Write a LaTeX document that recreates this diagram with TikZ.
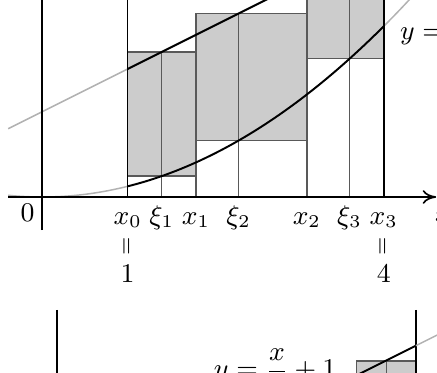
\documentclass[tikz,border=0pt]{standalone}
\usetikzlibrary{arrows.meta}
\begin{document}
\begin{tikzpicture}[
  lbl/.style={font=\fontsize{9}{11}\selectfont, inner sep=0pt},
  rectbox/.style={fill=black!20, draw=black!65, line width=0.45pt},
  tickline/.style={draw=black!65, line width=0.45pt},
  faint/.style={draw=black!30, line width=0.5pt},
  curve/.style={draw=black, line width=0.65pt},
  axis/.style={draw=black, line width=0.55pt},
]
\useasboundingbox (-0.4956,-2.0621) rectangle (4.6245,2.3081);
\clip (-0.4956,-2.0621) rectangle (4.6245,2.3081);

% rectangles of the upper figure
\filldraw[rectbox] (1,0.245) rectangle (1.8,1.7);
\filldraw[rectbox] (1.8,0.66125) rectangle (3.1,2.15);
\filldraw[rectbox] (3.1,1.62) rectangle (4,2.8);
\draw[tickline] (1.4,0) -- (1.4,1.7);
\draw[tickline] (1.8,0) -- (1.8,2.15);
\draw[tickline] (2.3,0) -- (2.3,2.15);
\draw[tickline] (3.1,0) -- (3.1,2.8);
\draw[tickline] (3.6,0) -- (3.6,2.8);

% curves
\draw[faint] plot[domain=-0.4:1, samples=30] (\x,{\x*\x/8});
\draw[faint] plot[domain=4:4.6, samples=20] (\x,{\x*\x/8});
\draw[faint] (-0.4,0.8) -- (1,1.5);
\draw[curve] plot[domain=1:4, samples=60] (\x,{\x*\x/8});
\draw[curve] (1,1.5) -- (4,3);

% axes and bounding verticals
\draw[axis, -{To[length=4.5pt,width=4.6pt]}] (-0.4,0) -- (4.615,0);
\draw[axis] (0,-0.387) -- (0,2.4);
\draw[axis] (1,0) -- (1,2.4);
\draw[axis] (4,0) -- (4,2.4);

% labels
\node[lbl, anchor=base] (lx0) at (1,-0.32) {$x_0$};
\node[lbl, anchor=base] (lxi1) at (1.4,-0.32) {$\xi_1$};
\node[lbl, anchor=base] (lx1) at (1.8,-0.32) {$x_1$};
\node[lbl, anchor=base] (lxi2) at (2.3,-0.32) {$\xi_2$};
\node[lbl, anchor=base] (lx2) at (3.1,-0.32) {$x_2$};
\node[lbl, anchor=base] (lxi3) at (3.6,-0.32) {$\xi_3$};
\node[lbl, anchor=base] (lx3) at (4,-0.32) {$x_3$};
\node[inner sep=0pt, rotate=90, font=\fontsize{7.2}{8}\selectfont] (eqa) at (1,-0.582) {$=$};
\node[inner sep=0pt, rotate=90, font=\fontsize{7.2}{8}\selectfont] (eqb) at (4,-0.582) {$=$};
\node[lbl, anchor=base] (one) at (1,-1.004) {$1$};
\node[lbl, anchor=base] (four) at (4,-1.004) {$4$};
\node[lbl, anchor=base east] (zero) at (-0.0855,-0.287) {$0$};
\node[lbl, anchor=base west] (xlab) at (4.595,-0.289) {$x$};
\node[lbl, anchor=base west] (ylab) at (4.185,1.84) {$y=$};

% lower figure (top part only)
\draw[axis] (0.169,-1.324) -- (0.169,-2.2);
\filldraw[rectbox] (3.684,-2.3) rectangle (4.035,-1.9215);
\filldraw[rectbox] (4.035,-2.3) rectangle (4.378,-1.9215);
\draw[axis] (4.378,-1.324) -- (4.378,-2.2);
\draw[curve] (3.6,-2.131) -- (4.378,-1.742);
\draw[faint] (4.378,-1.742) -- (4.8,-1.531);
\node[lbl, anchor=base west] (ylab2) at (2.004,-2.12) {$y=\displaystyle\frac{x}{2}+1$};
\end{tikzpicture}
\end{document}
